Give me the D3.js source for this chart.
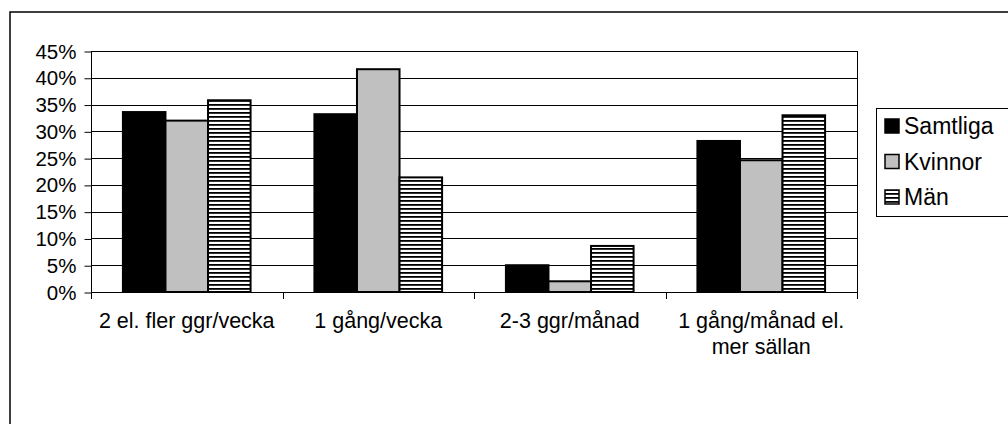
<!DOCTYPE html>
<html>
<head>
<meta charset="utf-8">
<script src="https://cdn.jsdelivr.net/npm/d3@7"></script>
<style>
  html, body { margin: 0; padding: 0; background: #fff; }
  svg { display: block; font-family: "Liberation Sans", Arial, sans-serif; }
</style>
</head>
<body>
<svg id="chart" width="1008" height="424"></svg>
<script>
const categories = [["2 el. fler ggr/vecka"], ["1 gång/vecka"], ["2-3 ggr/månad"], ["1 gång/månad el.", "mer sällan"]];
const seriesNames = ["Samtliga", "Kvinnor", "Män"];
const samtliga = [33.6, 33.2, 5.0, 28.2];
const kvinnor = [32.0, 41.6, 2.0, 24.6];
const man = [35.8, 21.4, 8.6, 33.0];
const yTicks = [0, 5, 10, 15, 20, 25, 30, 35, 40, 45];

const seriesValues = [samtliga, kvinnor, man];
const fills = ["#000000", "#c0c0c0", "url(#stripes)"];

const svg = d3.select("#chart");

// pattern
const defs = svg.append("defs");
const pat = defs.append("pattern").attr("id", "stripes").attr("patternUnits", "userSpaceOnUse")
  .attr("width", 8).attr("height", 4);
pat.append("rect").attr("width", 8).attr("height", 4).attr("fill", "#fff");
pat.append("rect").attr("y", 0).attr("width", 8).attr("height", 1.8).attr("fill", "#000");

// outer border
svg.append("rect").attr("x", 10).attr("y", 12).attr("width", 1100).attr("height", 500)
  .attr("fill", "none").attr("stroke", "#000").attr("stroke-width", 1.5);

const pLeft = 91, pRight = 857, pTop = 51, pBottom = 292;
const catIdx = categories.map((c, i) => i);
const x0 = d3.scaleBand().domain(catIdx).range([pLeft, pRight]).paddingInner(0).paddingOuter(0);
const x1 = d3.scaleBand().domain(seriesNames).range([0, x0.bandwidth()]).paddingInner(0).paddingOuter(0.75);
const y = d3.scaleLinear().domain([0, 45]).range([pBottom, pTop]);

// gridlines
svg.append("g").selectAll("line").data(yTicks.filter(t => t > 0)).join("line")
  .attr("x1", pLeft).attr("x2", pRight)
  .attr("y1", d => Math.round(y(d)) + 0.5).attr("y2", d => Math.round(y(d)) + 0.5)
  .attr("stroke", "#000").attr("stroke-width", 1);
// right plot border
svg.append("line").attr("x1", pRight + 0.5).attr("x2", pRight + 0.5).attr("y1", pTop).attr("y2", pBottom)
  .attr("stroke", "#000").attr("stroke-width", 1);

// bars
const groups = svg.append("g").selectAll("g").data(catIdx).join("g")
  .attr("transform", d => `translate(${x0(d)},0)`);
groups.selectAll("rect").data(ci => seriesNames.map((s, si) => ({ s, si, v: seriesValues[si][ci] }))).join("rect")
  .attr("x", d => x1(d.s))
  .attr("width", x1.bandwidth())
  .attr("y", d => y(d.v))
  .attr("height", d => y(0) - y(d.v))
  .attr("fill", d => fills[d.si])
  .attr("stroke", "#000").attr("stroke-width", 2);

// y axis
const yAxis = d3.axisLeft(y).tickValues(yTicks).tickSize(7).tickPadding(8).tickFormat(d => d + "%");
const gy = svg.append("g").attr("transform", `translate(${pLeft + 0.5},0.5)`).call(yAxis);
gy.select(".domain").attr("stroke", "#000").attr("d", `M0,${pTop}V${pBottom}`);
gy.selectAll(".tick line").attr("stroke", "#000");
gy.selectAll("text").attr("font-size", 20.5).attr("fill", "#000")
  .attr("font-family", "'Liberation Sans', Arial, sans-serif");

// x axis line and ticks
const xAxisG = svg.append("g");
xAxisG.append("line").attr("x1", pLeft).attr("x2", pRight).attr("y1", pBottom + 0.5).attr("y2", pBottom + 0.5)
  .attr("stroke", "#000");
const boundaries = catIdx.map(i => x0(i)).concat([pRight]);
xAxisG.selectAll("line.t").data(boundaries).join("line").attr("class", "t")
  .attr("x1", d => Math.round(d) + 0.5).attr("x2", d => Math.round(d) + 0.5)
  .attr("y1", pBottom).attr("y2", pBottom + 7).attr("stroke", "#000");

// x labels
const xl = svg.append("g").selectAll("text").data(catIdx).join("text")
  .attr("x", d => x0(d) + x0.bandwidth() / 2)
  .attr("y", 328)
  .attr("text-anchor", "middle")
  .attr("font-size", 21.5).attr("fill", "#000");
xl.selectAll("tspan").data(d => categories[d]).join("tspan")
  .attr("x", function () { return d3.select(this.parentNode).attr("x"); })
  .attr("dy", (d, i) => i === 0 ? 0 : 26)
  .text(d => d);

// legend
const lg = svg.append("g");
lg.append("rect").attr("x", 876.5).attr("y", 108.5).attr("width", 200).attr("height", 108)
  .attr("fill", "#fff").attr("stroke", "#000").attr("stroke-width", 1);
const items = lg.selectAll("g").data(seriesNames).join("g")
  .attr("transform", (d, i) => `translate(0,${126 + i * 35.5})`);
items.append("rect").attr("x", 885).attr("y", -7).attr("width", 14).attr("height", 14)
  .attr("fill", (d, i) => fills[i]).attr("stroke", "#000").attr("stroke-width", 1.5);
items.append("text").attr("x", 904).attr("y", 8).attr("font-size", 23).attr("fill", "#000").text(d => d);
</script>
</body>
</html>
